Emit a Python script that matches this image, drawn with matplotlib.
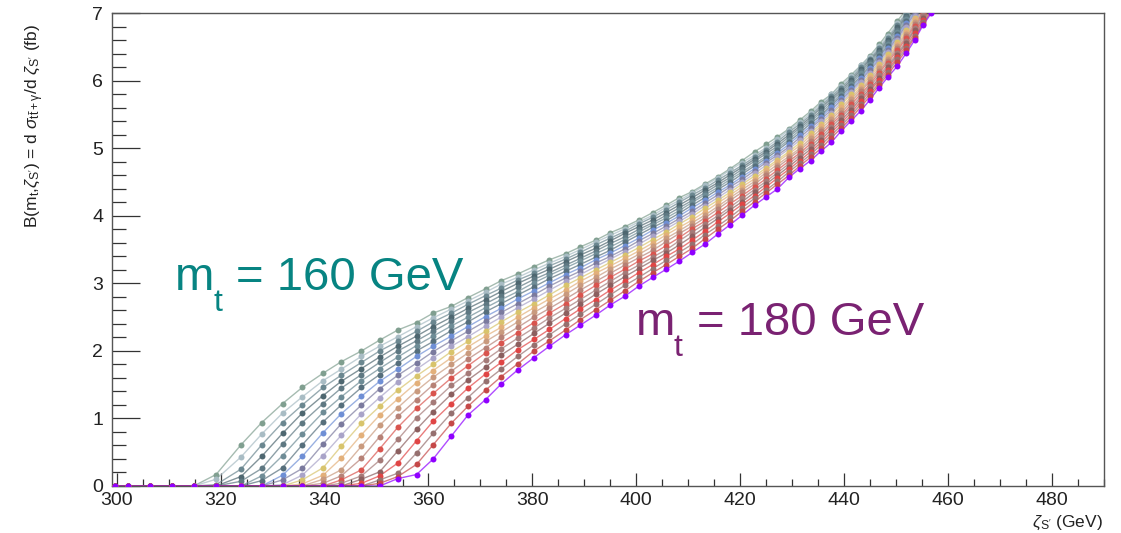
import matplotlib
matplotlib.use("Agg")
import matplotlib.pyplot as plt
from matplotlib.ticker import MultipleLocator

plt.rcParams['font.family'] = ['Liberation Sans', 'DejaVu Sans']
plt.rcParams['mathtext.fontset'] = 'custom'
plt.rcParams['mathtext.rm'] = 'Liberation Sans'
plt.rcParams['mathtext.it'] = 'Liberation Sans:italic'
plt.rcParams['mathtext.bf'] = 'Liberation Sans:bold'

# x grid shared by all curves (GeV)
zeta = [299.6, 302.1, 306.4, 310.6, 314.8, 319.1, 323.9, 327.9, 331.9, 335.7,
        339.7, 343.2, 347.1, 350.6, 354.1, 357.7, 360.9, 364.4, 367.6, 371.0,
        374.0, 377.2, 380.3, 383.3, 386.4, 389.2, 392.2, 395.0, 397.8, 400.5,
        403.2, 405.8, 408.3, 410.8, 413.2, 415.7, 418.1, 420.4, 422.8, 425.0,
        427.2, 429.4, 431.5, 433.6, 435.6, 437.6, 439.5, 441.4, 443.3, 445.0,
        446.8, 448.4, 450.3, 452.0, 453.6, 455.2, 456.8]

mt160 = [0, 0, 0, 0, 0, 0.17, 0.61, 0.94, 1.22, 1.46, 1.67, 1.84, 2.00, 2.16, 2.31, 2.42,
         2.56, 2.66, 2.79, 2.92, 3.04, 3.14, 3.25, 3.35, 3.44, 3.54, 3.64, 3.75, 3.84, 3.94,
         4.05, 4.16, 4.27, 4.36, 4.47, 4.58, 4.70, 4.82, 4.95, 5.06, 5.17, 5.29, 5.42, 5.55,
         5.69, 5.80, 5.96, 6.09, 6.23, 6.37, 6.54, 6.70, 6.89, 7.05]
mt161 = [0, 0, 0, 0, 0, 0.10, 0.43, 0.77, 1.08, 1.32, 1.56, 1.73, 1.92, 2.07, 2.21, 2.36,
         2.49, 2.62, 2.74, 2.87, 2.99, 3.09, 3.20, 3.30, 3.40, 3.50, 3.61, 3.71, 3.81, 3.91,
         4.01, 4.13, 4.23, 4.34, 4.45, 4.56, 4.68, 4.79, 4.90, 5.01, 5.14, 5.27, 5.39, 5.52,
         5.66, 5.80, 5.93, 6.07, 6.23, 6.36, 6.51, 6.66, 6.85, 7.01, 7.19]
mt162 = [0, 0, 0, 0, 0, 0.02, 0.25, 0.61, 0.94, 1.20, 1.46, 1.64, 1.83, 2.00, 2.14, 2.29,
         2.43, 2.56, 2.69, 2.82, 2.93, 3.05, 3.15, 3.26, 3.36, 3.46, 3.57, 3.67, 3.77, 3.88,
         3.98, 4.09, 4.20, 4.31, 4.41, 4.53, 4.64, 4.75, 4.87, 4.98, 5.10, 5.24, 5.36, 5.49,
         5.63, 5.77, 5.90, 6.04, 6.20, 6.33, 6.48, 6.63, 6.82, 6.99, 7.16]
mt163 = [0, 0, 0, 0, 0, 0, 0.14, 0.44, 0.78, 1.08, 1.34, 1.55, 1.74, 1.91, 2.07, 2.22,
         2.36, 2.50, 2.63, 2.76, 2.88, 3.00, 3.11, 3.21, 3.32, 3.42, 3.52, 3.63, 3.74, 3.84,
         3.94, 4.05, 4.16, 4.27, 4.38, 4.49, 4.61, 4.72, 4.84, 4.95, 5.07, 5.20, 5.33, 5.46,
         5.60, 5.74, 5.87, 6.01, 6.17, 6.31, 6.45, 6.60, 6.79, 6.96, 7.13]
mt164 = [0, 0, 0, 0, 0, 0, 0.07, 0.26, 0.62, 0.94, 1.22, 1.45, 1.65, 1.83, 2.00, 2.15,
         2.29, 2.44, 2.57, 2.70, 2.82, 2.94, 3.06, 3.16, 3.27, 3.37, 3.48, 3.59, 3.69, 3.80,
         3.90, 4.01, 4.12, 4.23, 4.34, 4.46, 4.57, 4.69, 4.81, 4.92, 5.03, 5.17, 5.30, 5.43,
         5.56, 5.71, 5.84, 5.98, 6.14, 6.28, 6.43, 6.57, 6.76, 6.94, 7.11]
mt165 = [0, 0, 0, 0, 0, 0, 0, 0.15, 0.45, 0.77, 1.09, 1.32, 1.56, 1.74, 1.91, 2.08,
         2.22, 2.37, 2.50, 2.64, 2.76, 2.88, 3.01, 3.12, 3.23, 3.33, 3.44, 3.54, 3.65, 3.76,
         3.87, 3.97, 4.08, 4.20, 4.31, 4.42, 4.54, 4.65, 4.77, 4.88, 5.00, 5.13, 5.27, 5.40,
         5.53, 5.67, 5.81, 5.95, 6.11, 6.25, 6.40, 6.54, 6.73, 6.91, 7.08]
mt166 = [0, 0, 0, 0, 0, 0, 0, 0.08, 0.27, 0.61, 0.95, 1.20, 1.46, 1.65, 1.82, 2.00,
         2.14, 2.30, 2.43, 2.58, 2.70, 2.83, 2.95, 3.07, 3.18, 3.28, 3.39, 3.49, 3.61, 3.72,
         3.83, 3.93, 4.04, 4.16, 4.27, 4.39, 4.50, 4.62, 4.74, 4.85, 4.97, 5.10, 5.23, 5.37,
         5.49, 5.64, 5.78, 5.92, 6.07, 6.22, 6.37, 6.51, 6.70, 6.88, 7.05]
mt167 = [0, 0, 0, 0, 0, 0, 0, 0, 0.16, 0.44, 0.79, 1.07, 1.33, 1.55, 1.73, 1.92,
         2.07, 2.22, 2.36, 2.51, 2.63, 2.77, 2.89, 3.01, 3.13, 3.23, 3.35, 3.45, 3.56, 3.67,
         3.79, 3.89, 4.00, 4.12, 4.23, 4.35, 4.46, 4.58, 4.70, 4.82, 4.93, 5.06, 5.20, 5.33,
         5.46, 5.61, 5.75, 5.89, 6.04, 6.19, 6.34, 6.48, 6.67, 6.85, 7.02]
mt168 = [0, 0, 0, 0, 0, 0, 0, 0, 0.09, 0.26, 0.62, 0.92, 1.20, 1.44, 1.64, 1.82,
         1.99, 2.15, 2.29, 2.44, 2.57, 2.70, 2.83, 2.96, 3.08, 3.18, 3.30, 3.40, 3.51, 3.63,
         3.74, 3.85, 3.96, 4.07, 4.19, 4.31, 4.43, 4.54, 4.67, 4.79, 4.90, 5.02, 5.16, 5.30,
         5.43, 5.57, 5.72, 5.86, 6.01, 6.16, 6.31, 6.45, 6.64, 6.82, 6.99, 7.17]
mt169 = [0, 0, 0, 0, 0, 0, 0, 0, 0.02, 0.16, 0.45, 0.75, 1.07, 1.31, 1.54, 1.73,
         1.90, 2.07, 2.21, 2.37, 2.50, 2.64, 2.77, 2.90, 3.03, 3.13, 3.25, 3.36, 3.47, 3.58,
         3.70, 3.81, 3.92, 4.03, 4.15, 4.27, 4.39, 4.50, 4.63, 4.75, 4.87, 4.99, 5.12, 5.26,
         5.40, 5.53, 5.68, 5.83, 5.98, 6.12, 6.28, 6.42, 6.61, 6.79, 6.96, 7.14]
mt170 = [0, 0, 0, 0, 0, 0, 0, 0, 0, 0.09, 0.27, 0.59, 0.93, 1.18, 1.42, 1.63,
         1.80, 1.99, 2.14, 2.29, 2.43, 2.57, 2.70, 2.83, 2.97, 3.08, 3.20, 3.31, 3.42, 3.53,
         3.65, 3.76, 3.88, 3.99, 4.11, 4.23, 4.35, 4.47, 4.59, 4.71, 4.83, 4.95, 5.08, 5.23,
         5.36, 5.50, 5.65, 5.80, 5.94, 6.09, 6.25, 6.39, 6.58, 6.76, 6.93, 7.11]
mt171 = [0, 0, 0, 0, 0, 0, 0, 0, 0, 0.03, 0.16, 0.41, 0.76, 1.05, 1.29, 1.53,
         1.71, 1.90, 2.06, 2.22, 2.35, 2.50, 2.64, 2.77, 2.90, 3.03, 3.15, 3.26, 3.37, 3.48,
         3.60, 3.72, 3.83, 3.94, 4.06, 4.19, 4.31, 4.43, 4.55, 4.68, 4.80, 4.92, 5.04, 5.19,
         5.33, 5.46, 5.61, 5.76, 5.91, 6.06, 6.22, 6.36, 6.54, 6.73, 6.91, 7.08]
mt172 = [0, 0, 0, 0, 0, 0, 0, 0, 0, 0, 0.10, 0.24, 0.59, 0.90, 1.16, 1.41,
         1.61, 1.80, 1.97, 2.14, 2.28, 2.43, 2.57, 2.70, 2.84, 2.97, 3.09, 3.21, 3.32, 3.43,
         3.55, 3.67, 3.78, 3.90, 4.01, 4.14, 4.27, 4.39, 4.51, 4.64, 4.76, 4.88, 5.00, 5.15,
         5.29, 5.43, 5.57, 5.73, 5.88, 6.02, 6.19, 6.33, 6.51, 6.70, 6.87, 7.05]
mt173 = [0, 0, 0, 0, 0, 0, 0, 0, 0, 0, 0.04, 0.15, 0.41, 0.73, 1.03, 1.28,
         1.50, 1.70, 1.88, 2.05, 2.20, 2.35, 2.50, 2.63, 2.77, 2.90, 3.03, 3.15, 3.27, 3.38,
         3.49, 3.62, 3.74, 3.85, 3.97, 4.10, 4.23, 4.35, 4.47, 4.60, 4.72, 4.85, 4.97, 5.11,
         5.25, 5.39, 5.53, 5.69, 5.85, 5.99, 6.15, 6.30, 6.48, 6.66, 6.84, 7.02]
mt174 = [0, 0, 0, 0, 0, 0, 0, 0, 0, 0, 0, 0.09, 0.24, 0.55, 0.87, 1.15,
         1.37, 1.60, 1.78, 1.97, 2.12, 2.27, 2.42, 2.56, 2.70, 2.83, 2.97, 3.09, 3.21, 3.33,
         3.44, 3.56, 3.68, 3.81, 3.92, 4.05, 4.18, 4.30, 4.43, 4.55, 4.68, 4.81, 4.93, 5.07,
         5.21, 5.36, 5.49, 5.65, 5.81, 5.95, 6.12, 6.27, 6.45, 6.63, 6.81, 7.00, 7.17]
mt175 = [0, 0, 0, 0, 0, 0, 0, 0, 0, 0, 0, 0.04, 0.15, 0.38, 0.69, 1.01,
         1.24, 1.49, 1.67, 1.87, 2.03, 2.19, 2.34, 2.49, 2.63, 2.76, 2.90, 3.03, 3.16, 3.27,
         3.39, 3.50, 3.63, 3.76, 3.88, 4.00, 4.13, 4.26, 4.39, 4.51, 4.64, 4.77, 4.90, 5.03,
         5.17, 5.32, 5.46, 5.61, 5.77, 5.92, 6.08, 6.23, 6.41, 6.59, 6.78, 6.97, 7.14]
mt176 = [0, 0, 0, 0, 0, 0, 0, 0, 0, 0, 0, 0, 0.10, 0.21, 0.52, 0.84,
         1.10, 1.36, 1.57, 1.76, 1.94, 2.10, 2.26, 2.41, 2.56, 2.69, 2.84, 2.97, 3.10, 3.22,
         3.34, 3.45, 3.57, 3.70, 3.83, 3.96, 4.09, 4.21, 4.35, 4.47, 4.60, 4.73, 4.86, 4.99,
         5.13, 5.28, 5.42, 5.57, 5.74, 5.88, 6.04, 6.20, 6.38, 6.56, 6.75, 6.93, 7.11]
mt177 = [0, 0, 0, 0, 0, 0, 0, 0, 0, 0, 0, 0, 0.04, 0.15, 0.34, 0.67,
         0.96, 1.22, 1.45, 1.66, 1.83, 2.02, 2.17, 2.32, 2.48, 2.62, 2.76, 2.90, 3.03, 3.16,
         3.28, 3.40, 3.51, 3.64, 3.77, 3.91, 4.04, 4.17, 4.30, 4.43, 4.56, 4.69, 4.82, 4.95,
         5.09, 5.24, 5.38, 5.53, 5.70, 5.85, 6.01, 6.16, 6.35, 6.52, 6.71, 6.90, 7.09]
mt178 = [0, 0, 0, 0, 0, 0, 0, 0, 0, 0, 0, 0, 0, 0.09, 0.19, 0.49,
         0.78, 1.08, 1.31, 1.55, 1.73, 1.92, 2.09, 2.24, 2.40, 2.54, 2.69, 2.83, 2.97, 3.09,
         3.22, 3.34, 3.46, 3.58, 3.72, 3.85, 3.98, 4.12, 4.26, 4.38, 4.51, 4.65, 4.78, 4.91,
         5.05, 5.20, 5.34, 5.49, 5.66, 5.81, 5.97, 6.13, 6.32, 6.48, 6.67, 6.87, 7.06]
mt179 = [0, 0, 0, 0, 0, 0, 0, 0, 0, 0, 0, 0, 0, 0.04, 0.14, 0.32,
         0.61, 0.93, 1.18, 1.42, 1.62, 1.81, 2.00, 2.15, 2.31, 2.46, 2.61, 2.75, 2.89, 3.03,
         3.16, 3.28, 3.40, 3.52, 3.66, 3.80, 3.93, 4.07, 4.21, 4.34, 4.47, 4.60, 4.74, 4.87,
         5.00, 5.16, 5.30, 5.45, 5.62, 5.77, 5.94, 6.09, 6.28, 6.45, 6.64, 6.84, 7.03]
mt180 = [0, 0, 0, 0, 0, 0, 0, 0, 0, 0, 0, 0, 0, 0, 0.11, 0.17,
         0.40, 0.74, 1.05, 1.28, 1.51, 1.72, 1.90, 2.07, 2.24, 2.38, 2.53, 2.68, 2.81, 2.96,
         3.09, 3.21, 3.33, 3.46, 3.58, 3.73, 3.87, 4.01, 4.16, 4.28, 4.40, 4.57, 4.70, 4.82,
         4.96, 5.09, 5.26, 5.41, 5.56, 5.72, 5.90, 6.05, 6.22, 6.41, 6.60, 6.82, 7.00]

curves = [mt160, mt161, mt162, mt163, mt164, mt165, mt166, mt167, mt168, mt169, mt170,
          mt171, mt172, mt173, mt174, mt175, mt176, mt177, mt178, mt179, mt180]

colors = ['#809f90', '#a8bcc4', '#6b8790', '#4e6770', '#5e7882', '#6e8c96', '#566f7c',
          '#6f8fd5', '#7b7a9e', '#a9a3c8', '#d8c46c', '#e3b07a', '#c99a7e', '#b78176',
          '#d9544e', '#a57a78', '#8c5f5f', '#e04545', '#96706f', '#c54848', '#8f00ff']

W, H = 1121, 533
fig = plt.figure(figsize=(W / 100, H / 100), dpi=100)
ax = fig.add_axes([111.7 / W, 1 - 486 / H, (1103.6 - 111.7) / W, (486 - 13.3) / H])

for vals, c in zip(curves, colors):
    xs = zeta[:len(vals)]
    ax.plot(xs, vals, '-', color=c, lw=1.0, alpha=0.7, zorder=2)
    ax.plot(xs, vals, 'o', color=c, ms=4.3, mew=0, zorder=3)

ax.set_xlim(299, 490)
ax.set_ylim(0, 7)
ax.set_xticks(range(300, 481, 20))
ax.set_yticks(range(0, 8))
ax.xaxis.set_minor_locator(MultipleLocator(5))
ax.yaxis.set_minor_locator(MultipleLocator(0.2))
axc = '#333333'
for s in ax.spines.values():
    s.set_color('#555555')
    s.set_linewidth(1.0)
ax.tick_params(axis='x', which='major', direction='in', length=9.4, width=0.9,
               color=axc, labelsize=14, labelcolor='#222222', pad=4, top=False)
ax.tick_params(axis='x', which='minor', direction='in', length=4.7, width=0.9,
               color=axc, top=False)
ax.tick_params(axis='y', which='major', direction='in', length=20, width=0.9,
               color=axc, labelsize=14, labelcolor='#222222', pad=6, right=False)
ax.tick_params(axis='y', which='minor', direction='in', length=10, width=0.9,
               color=axc, right=False)

fig.text(35 / W, 1 - 24 / H,
         r'B(m$_{\rm t}$,$\zeta_{\rm S^{\prime}}$) = d $\sigma_{\rm t\bar{t}+\gamma}$/d $\zeta_{\rm S^{\prime}}$ (fb)',
         rotation=90, ha='center', va='top', fontsize=12.5, color='#222222')
fig.text(1103 / W, 1 - 527 / H, r'$\zeta_{\rm S^{\prime}}$ (GeV)', ha='right',
         va='baseline', fontsize=12.5, color='#222222')

teal = '#078482'
purp = '#7a2272'
fig.text(175 / W, 1 - 290 / H, 'm', color=teal, fontsize=34, va='baseline')
fig.text(213 / W, 1 - 311 / H, 't', color=teal, fontsize=23, va='baseline')
fig.text(236 / W, 1 - 290 / H, '= 160 GeV', color=teal, fontsize=34, va='baseline')
fig.text(636 / W, 1 - 335 / H, 'm', color=purp, fontsize=34, va='baseline')
fig.text(674 / W, 1 - 356 / H, 't', color=purp, fontsize=23, va='baseline')
fig.text(697 / W, 1 - 335 / H, '= 180 GeV', color=purp, fontsize=34, va='baseline')

fig.savefig('out.png', dpi=100)
